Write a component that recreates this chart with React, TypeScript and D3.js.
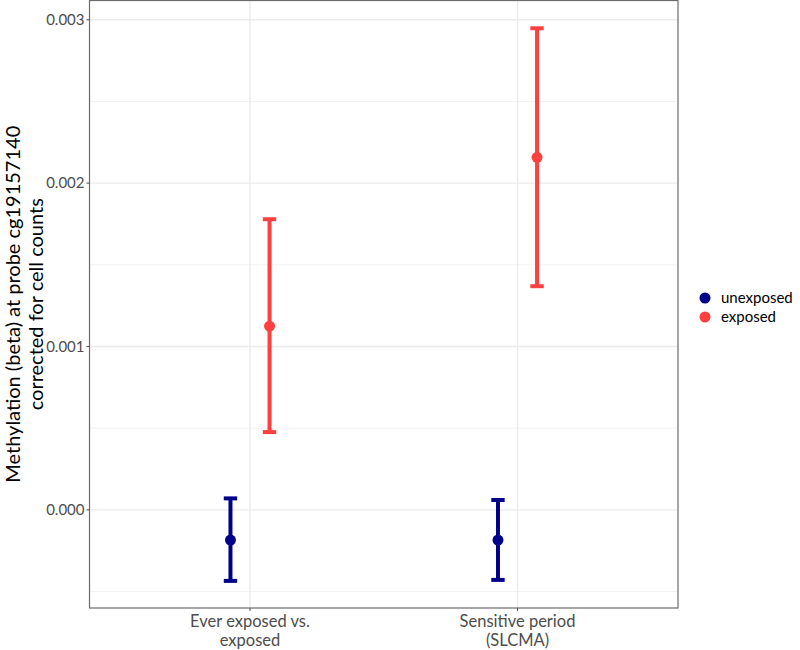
import React from "react";
import * as d3 from "d3";

const categories = ["Ever exposed vs.\nexposed", "Sensitive period\n(SLCMA)"];
const groups = ["unexposed", "exposed"];
const estimates = [
  [-0.000185, 0.001124],
  [-0.000185, 0.002158],
];
const lower = [
  [-0.000435, 0.000476],
  [-0.000429, 0.001369],
];
const upper = [
  [0.00007, 0.001779],
  [0.00006, 0.002948],
];
const yTicks = [0, 0.001, 0.002, 0.003];
const yMinor = [-0.0005, 0.0005, 0.0015, 0.0025];
const colors = ["#00008B", "#FF4040"];
const yTitle = ["Methylation (beta) at probe cg19157140", "corrected for cell counts"];

const W = 800, H = 650;
const panel = { left: 89.5, right: 678, top: 0.5, bottom: 608 };
const FONT = "Lato, 'Open Sans', sans-serif";

export default function App() {
  const y = d3.scaleLinear().domain([-0.000601, 0.003118]).range([panel.bottom, panel.top]);
  const x = d3.scaleLinear().domain([0.4, 2.6]).range([panel.left, panel.right]);
  const dodge = 0.073;
  const cap = 6.7;
  return (
    <div style={{ position: "fixed", left: 0, top: 0 }}>
      <svg width={W} height={H} style={{ display: "block" }}>
        <rect x={0} y={0} width={W} height={H} fill="white" />
        {yMinor.map((t) => (
          <line key={"m" + t} x1={panel.left} x2={panel.right} y1={y(t)} y2={y(t)} stroke="#f2f2f2" strokeWidth={1} />
        ))}
        {yTicks.map((t) => (
          <line key={"g" + t} x1={panel.left} x2={panel.right} y1={y(t)} y2={y(t)} stroke="#ebebeb" strokeWidth={1.4} />
        ))}
        {categories.map((c, i) => (
          <line key={"vg" + i} x1={x(i + 1)} x2={x(i + 1)} y1={panel.top} y2={panel.bottom} stroke="#ebebeb" strokeWidth={1.4} />
        ))}
        {categories.map((c, i) =>
          groups.map((g, j) => {
            const cx = x(i + 1 + (j === 0 ? -dodge : dodge));
            return (
              <g key={c + g}>
                <line x1={cx} x2={cx} y1={y(lower[i][j])} y2={y(upper[i][j])} stroke={colors[j]} strokeWidth={4} />
                <line x1={cx - cap} x2={cx + cap} y1={y(lower[i][j])} y2={y(lower[i][j])} stroke={colors[j]} strokeWidth={4} />
                <line x1={cx - cap} x2={cx + cap} y1={y(upper[i][j])} y2={y(upper[i][j])} stroke={colors[j]} strokeWidth={4} />
                <circle cx={cx} cy={y(estimates[i][j])} r={5.5} fill={colors[j]} />
              </g>
            );
          })
        )}
        <rect x={panel.left} y={panel.top} width={panel.right - panel.left} height={panel.bottom - panel.top} fill="none" stroke="#6b6b6b" strokeWidth={1.2} />
        {yTicks.map((t) => (
          <g key={"t" + t}>
            <line x1={panel.left - 3} x2={panel.left} y1={y(t)} y2={y(t)} stroke="#555" strokeWidth={1.1} />
            <text x={panel.left - 5} y={y(t)} dy="0.35em" textAnchor="end" fontFamily={FONT} fontSize={15} fill="#4d4d4d">
              {d3.format(".3f")(t)}
            </text>
          </g>
        ))}
        {categories.map((c, i) => (
          <g key={"xt" + i}>
            <line x1={x(i + 1)} x2={x(i + 1)} y1={panel.bottom} y2={panel.bottom + 3} stroke="#555" strokeWidth={1.1} />
            <text x={x(i + 1)} y={panel.bottom + 19} textAnchor="middle" fontFamily={FONT} fontSize={16.5} fill="#4d4d4d">
              {c.split("\n").map((l, k) => (
                <tspan key={k} x={x(i + 1)} dy={k === 0 ? 0 : 19}>{l}</tspan>
              ))}
            </text>
          </g>
        ))}
        <text transform={`translate(20, ${(panel.top + panel.bottom) / 2}) rotate(-90)`} textAnchor="middle" fontFamily={FONT} fontSize={20} fill="#000">
          {yTitle.map((l, k) => (
            <tspan key={k} x={0} dy={k === 0 ? 0 : 23}>{l}</tspan>
          ))}
        </text>
        {groups.map((g, j) => (
          <g key={"lg" + g}>
            <circle cx={705} cy={298 + j * 19} r={5.5} fill={colors[j]} />
            <text x={721} y={298 + j * 19} dy="0.35em" fontFamily={FONT} fontSize={15} fill="#000">{g}</text>
          </g>
        ))}
      </svg>
    </div>
  );
}
